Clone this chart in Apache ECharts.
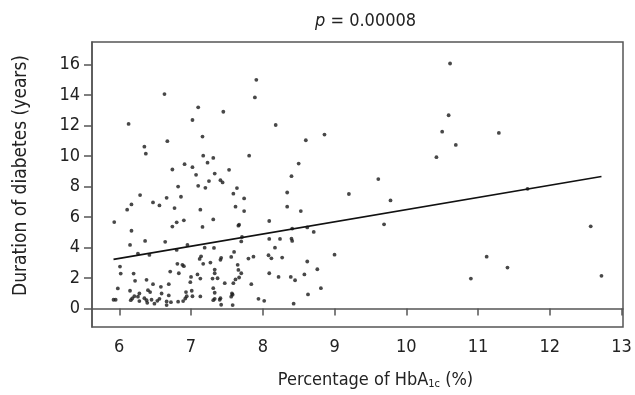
<!DOCTYPE html>
<html>
<head>
<meta charset="utf-8">
<script src="https://cdn.jsdelivr.net/npm/echarts@6/dist/echarts.min.js"></script>
<style>
  html, body { margin: 0; padding: 0; background: #fff; }
  #chart { width: 635px; height: 395px; }
</style>
</head>
<body>
<div id="chart"></div>
<script>
// HbA1c (%) per patient
const hba1c = [
  6.63, 7.10, 7.45, 6.13, 7.02, 6.67, 7.16, 6.35, 6.37, 7.17, 7.31, 7.23, 6.91, 7.02, 6.74, 7.33,
  7.07, 7.25, 7.41, 7.44, 6.82, 7.10, 7.20, 6.29, 6.66, 6.86, 6.47, 6.56, 6.17, 6.11, 6.77, 7.13,
  5.93, 7.31, 6.90, 6.80, 6.74, 7.16, 6.17, 6.36, 6.64, 6.15, 6.95, 7.19, 7.32, 6.80, 6.26, 6.42,
  7.14, 7.12, 7.42, 7.41, 6.81, 6.88, 6.90, 7.17, 7.27, 6.01, 6.02, 6.20, 6.71, 6.83, 7.09, 7.33,
  7.33, 7.00, 7.13, 7.30, 7.37, 6.22, 6.38, 6.47, 6.69, 6.99, 7.47, 5.98, 6.15, 6.40, 6.43, 6.58,
  7.31, 6.28, 6.59, 7.01, 6.93, 7.33, 6.69, 6.21, 6.26, 6.35, 6.18, 6.16, 5.92, 5.95, 6.38, 6.39,
  6.28, 6.45, 6.53, 6.49, 6.56, 6.66, 6.66, 6.72, 6.82, 6.89, 6.92, 6.94, 7.02, 7.13, 7.33, 7.31,
  7.41, 7.40, 7.42,
  7.91, 7.89, 8.18, 8.86, 8.60, 7.81, 8.50, 7.53, 8.40, 7.64,
  7.59, 7.74, 8.34, 7.62, 7.74, 8.34, 8.53, 8.09, 7.66, 7.67, 8.41, 8.62, 8.71, 7.71, 7.70, 8.09,
  8.24, 8.40, 8.41, 8.17, 7.60, 7.56, 7.80, 7.87, 8.08, 8.12, 8.27, 9.00, 8.62, 7.65, 7.66, 7.70,
  8.76, 8.09, 8.22, 8.39, 8.45, 8.58, 7.67, 7.62, 7.59, 7.84, 8.81, 7.57, 7.58, 7.56, 8.63, 7.94,
  8.02, 7.58, 8.43,
  10.61, 10.59, 10.50, 10.69, 10.42, 9.61, 9.20, 9.78, 9.69, 10.90, 11.29, 11.69, 12.57, 11.12,
  11.41, 12.72
];

// Duration of diabetes (years), same order as hba1c
const duration = [
  14.07, 13.20, 12.91, 12.11, 12.37, 10.98, 11.28, 10.62, 10.16, 10.03, 9.88, 9.57, 9.47, 9.27, 9.12, 8.85,
  8.77, 8.36, 8.42, 8.27, 8.00, 8.05, 7.92, 7.44, 7.26, 7.33, 6.96, 6.76, 6.83, 6.48, 6.59, 6.48,
  5.67, 5.84, 5.78, 5.65, 5.37, 5.35, 5.10, 4.43, 4.37, 4.17, 4.17, 3.99, 3.97, 3.84, 3.60, 3.51,
  3.42, 3.25, 3.32, 3.19, 2.93, 2.86, 2.77, 2.93, 3.01, 2.75, 2.29, 2.29, 2.42, 2.31, 2.23, 2.55,
  2.31, 2.07, 1.96, 1.96, 1.98, 1.81, 1.88, 1.59, 1.59, 1.72, 1.66, 1.31, 1.16, 1.20, 1.07, 1.42,
  1.33, 0.98, 0.98, 1.16, 1.07, 1.03, 0.85, 0.80, 0.77, 0.67, 0.65, 0.54, 0.57, 0.57, 0.54, 0.37,
  0.48, 0.57, 0.50, 0.31, 0.63, 0.46, 0.22, 0.41, 0.44, 0.48, 0.65, 0.80, 0.80, 0.79, 0.63, 0.54,
  0.67, 0.57, 0.24,
  15.01, 13.85, 12.04, 11.41, 11.04, 10.03, 9.51, 9.10, 8.68, 7.90,
  7.53, 7.22, 7.61, 6.68, 6.39, 6.68, 6.39, 5.74, 5.43, 5.50, 5.24, 5.32, 5.02, 4.69, 4.40, 4.56,
  4.56, 4.58, 4.43, 3.99, 3.71, 3.38, 3.27, 3.40, 3.49, 3.29, 3.34, 3.53, 3.08, 2.86, 2.53, 2.31,
  2.57, 2.31, 2.07, 2.07, 1.85, 2.23, 2.03, 1.90, 1.66, 1.59, 1.33, 0.98, 0.90, 0.77, 0.92, 0.63,
  0.50, 0.22, 0.31,
  16.08, 12.68, 11.60, 10.73, 9.93, 8.49, 7.51, 7.09, 5.52, 1.96, 11.52, 7.85, 5.39, 3.40,
  2.68, 2.14
];

// fitted regression line end points
const fitX = [5.92, 12.72];
const fitY = [3.22, 8.66];

const xTicks = [6, 7, 8, 9, 10, 11, 12, 13];
const yTicks = [0, 2, 4, 6, 8, 10, 12, 14, 16];

const font = "'Liberation Sans Narrow', 'DejaVu Sans Condensed', 'Liberation Sans', sans-serif";
const ink = '#222';
const frame = '#555';

const chart = echarts.init(document.getElementById('chart'), null, { renderer: 'canvas' });

chart.setOption({
  backgroundColor: '#fff',
  animation: false,
  textStyle: { fontFamily: font },
  title: {
    text: '{i|p} = 0.00008',
    left: 310,
    top: 7,
    textStyle: {
      fontFamily: font,
      fontSize: 18,
      fontWeight: 'normal',
      color: ink,
      rich: {
        i: { fontFamily: font, fontSize: 18, fontStyle: 'italic', color: ink }
      }
    }
  },
  grid: {
    left: 92, right: 12, top: 42, bottom: 67,
    show: true,
    borderColor: frame,
    borderWidth: 1.5,
    backgroundColor: 'transparent'
  },
  xAxis: {
    type: 'value',
    min: 5.62,
    max: 13.02,
    name: '{t|Percentage of HbA}{s|1c}{t| (%)}',
    nameLocation: 'middle',
    nameGap: 43,
    nameTextStyle: {
      padding: [0, 0, 0, 36],
      rich: {
        t: { fontFamily: font, fontSize: 18, color: ink },
        s: { fontFamily: font, fontSize: 11, color: ink, verticalAlign: 'bottom', padding: [9, 0, 0, 0] }
      }
    },
    splitLine: { show: false },
    axisLine: { show: true, lineStyle: { color: frame, width: 1.5 } },
    axisTick: { show: true, customValues: xTicks, length: 7, lineStyle: { color: frame, width: 1.5 } },
    axisLabel: { customValues: xTicks, color: ink, fontSize: 18, fontFamily: font, margin: 11 }
  },
  yAxis: {
    type: 'value',
    min: -1.22,
    max: 17.49,
    name: 'Duration of diabetes (years)',
    nameLocation: 'middle',
    nameGap: 61,
    nameTextStyle: { fontFamily: font, fontSize: 19, color: ink, padding: [0, 0, 0, 18] },
    splitLine: { show: false },
    axisLine: { show: true, lineStyle: { color: frame, width: 1.5 } },
    axisTick: { show: true, customValues: yTicks, length: 8, lineStyle: { color: frame, width: 1.5 } },
    axisLabel: { customValues: yTicks, color: ink, fontSize: 18, fontFamily: font, margin: 12 }
  },
  series: [
    {
      type: 'scatter',
      data: hba1c.map((x, i) => [x, duration[i]]),
      symbol: 'circle',
      symbolSize: 3.8,
      itemStyle: { color: '#1a1a1a' },
      silent: true
    },
    {
      type: 'line',
      data: fitX.map((x, i) => [x, fitY[i]]),
      showSymbol: false,
      lineStyle: { color: '#111', width: 1.6 },
      silent: true
    }
  ]
});
</script>
</body>
</html>
